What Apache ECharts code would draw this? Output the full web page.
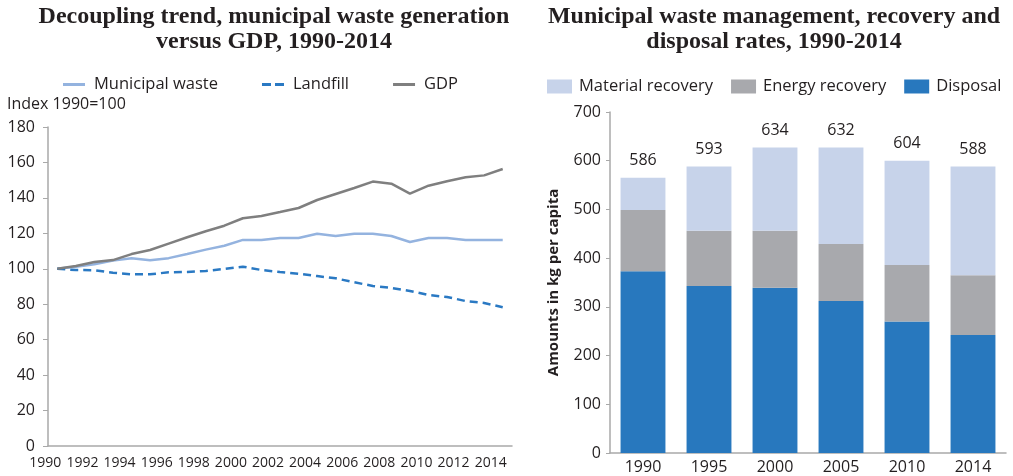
<!DOCTYPE html>
<html>
<head>
<meta charset="utf-8">
<script src="https://cdn.jsdelivr.net/npm/echarts@6/dist/echarts.min.js"></script>
<style>
  html, body { margin: 0; padding: 0; background: #fff; }
  #chart { width: 1013px; height: 476px; }
</style>
</head>
<body>
<div id="chart"></div>
<script>
// left chart: index 1990=100
const years = ['1990','1991','1992','1993','1994','1995','1996','1997','1998','1999','2000','2001','2002',
  '2003','2004','2005','2006','2007','2008','2009','2010','2011','2012','2013','2014'];
const municipalWaste = [100, 101.2, 102.5, 104.6, 106, 104.8, 106, 108.3, 110.8, 113, 116.3, 116.3, 117.4,
  117.4, 119.8, 118.5, 119.8, 119.8, 118.5, 115.1, 117.4, 117.4, 116.3, 116.3, 116.3];
const landfill = [100, 99.3, 99.2, 97.8, 96.9, 96.9, 98, 98.2, 98.8, 99.9, 101.2, 99.3, 98.2,
  97.2, 95.9, 94.6, 92.4, 90.3, 89.2, 87.5, 85.2, 84.1, 81.8, 80.7, 78.3];
const gdp = [100, 101.6, 103.8, 104.9, 108.3, 110.6, 114.2, 117.8, 121.2, 124.3, 128.5, 129.8, 132,
  134.3, 138.8, 142.2, 145.6, 149.2, 148, 142.4, 146.9, 149.4, 151.6, 152.7, 156.3];

// right chart: kg per capita
const barYears = ['1990', '1995', '2000', '2005', '2010', '2014'];
const disposal = [373, 343, 339, 312, 270, 242];
const energyRecovery = [126, 113, 117, 117, 116, 123];
const materialRecovery = [66, 132, 171, 198, 214, 223];
const totalLabels = [586, 593, 634, 632, 604, 588];

const FONT = '"Open Sans", "Noto Sans", sans-serif';
const SERIF = '"Liberation Serif", "Times New Roman", serif';
const TXT = '#231f20';
const AXIS = '#a9a9a9';

// legend icons for the line series (plain stroke / dashed stroke)
const solidIcon = 'path://M0,0H22V3H0Z';
const dashIcon = 'path://M0,0H9V3H0Z M13,0H22V3H13Z';

const chart = echarts.init(document.getElementById('chart'));

chart.setOption({
  animation: false,
  textStyle: { fontFamily: FONT, color: TXT },
  title: [
    {
      text: 'Decoupling trend, municipal waste generation\nversus GDP, 1990-2014',
      left: 274, top: 4, padding: 0, textAlign: 'center',
      textStyle: { fontFamily: SERIF, fontWeight: 'bold', fontSize: 24, lineHeight: 25, color: TXT }
    },
    {
      text: 'Municipal waste management, recovery and\ndisposal rates, 1990-2014',
      left: 774, top: 4, padding: 0, textAlign: 'center',
      textStyle: { fontFamily: SERIF, fontWeight: 'bold', fontSize: 24, lineHeight: 25, color: TXT }
    },
    {
      text: 'Index 1990=100',
      left: 7, top: 96, padding: 0,
      textStyle: { fontFamily: FONT, fontWeight: 'normal', fontSize: 16, color: TXT }
    }
  ],
  legend: [
    {
      data: [
        { name: 'Municipal waste', icon: solidIcon },
        { name: 'Landfill', icon: dashIcon },
        { name: 'GDP', icon: solidIcon }
      ],
      left: 58, top: 71,
      itemWidth: 22, itemHeight: 3, itemGap: 44,
      textStyle: { fontFamily: FONT, fontSize: 16.5, color: TXT, padding: [0, 0, 0, 4] }
    },
    {
      data: ['Material recovery', 'Energy recovery', 'Disposal'],
      left: 542, top: 73,
      icon: 'rect',
      itemWidth: 25, itemHeight: 14, itemGap: 18,
      textStyle: { fontFamily: FONT, fontSize: 16.5, color: TXT, padding: [0, 0, 0, 2] }
    }
  ],
  grid: [
    { left: 48, top: 127, width: 464, height: 319 },
    { left: 610, top: 112, width: 396, height: 341 }
  ],
  xAxis: [
    {
      gridIndex: 0, type: 'category', data: years, boundaryGap: true,
      axisLine: { lineStyle: { color: AXIS, width: 1.5 } },
      axisTick: { show: false },
      axisLabel: { interval: 1, fontSize: 14, color: TXT, margin: 10, padding: [0, 24, 0, 0] }
    },
    {
      gridIndex: 1, type: 'category', data: barYears,
      axisLine: { lineStyle: { color: AXIS, width: 1.5 } },
      axisTick: { show: false },
      axisLabel: { fontSize: 16, color: TXT, margin: 6 }
    }
  ],
  yAxis: [
    {
      gridIndex: 0, type: 'value', min: 0, max: 180, interval: 20,
      axisLine: { show: true, lineStyle: { color: AXIS, width: 1.5 } },
      axisTick: { show: true, length: 5, lineStyle: { color: AXIS } },
      splitLine: { show: false },
      axisLabel: { fontSize: 16, color: TXT, margin: 13 }
    },
    {
      gridIndex: 1, type: 'value', min: 0, max: 700, interval: 100,
      name: 'Amounts in kg per capita', nameLocation: 'middle', nameGap: 49,
      nameTextStyle: { fontFamily: FONT, fontWeight: 'bold', fontSize: 15, color: TXT },
      axisLine: { show: true, lineStyle: { color: AXIS, width: 1.5 } },
      axisTick: { show: true, length: 4, lineStyle: { color: AXIS } },
      splitLine: { show: false },
      axisLabel: { fontSize: 16, color: TXT, margin: 9 }
    }
  ],
  series: [
    {
      name: 'Municipal waste', type: 'line', xAxisIndex: 0, yAxisIndex: 0,
      data: municipalWaste, symbol: 'none',
      lineStyle: { color: '#94b3df', width: 2.5 }, itemStyle: { color: '#94b3df' }
    },
    {
      name: 'Landfill', type: 'line', xAxisIndex: 0, yAxisIndex: 0,
      data: landfill, symbol: 'none',
      lineStyle: { color: '#2a79c3', width: 2.5, type: [8, 5] }, itemStyle: { color: '#2a79c3' }
    },
    {
      name: 'GDP', type: 'line', xAxisIndex: 0, yAxisIndex: 0,
      data: gdp, symbol: 'none',
      lineStyle: { color: '#7f7f7f', width: 2.5 }, itemStyle: { color: '#7f7f7f' }
    },
    {
      name: 'Disposal', type: 'bar', xAxisIndex: 1, yAxisIndex: 1, stack: 'waste',
      data: disposal, barCategoryGap: '32%',
      itemStyle: { color: '#2878be' }
    },
    {
      name: 'Energy recovery', type: 'bar', xAxisIndex: 1, yAxisIndex: 1, stack: 'waste',
      data: energyRecovery,
      itemStyle: { color: '#a8a9ad' }
    },
    {
      name: 'Material recovery', type: 'bar', xAxisIndex: 1, yAxisIndex: 1, stack: 'waste',
      data: materialRecovery,
      itemStyle: { color: '#c7d3ea' },
      label: {
        show: true, position: 'top', distance: 9,
        fontFamily: FONT, fontSize: 16, color: TXT,
        formatter: p => String(totalLabels[p.dataIndex])
      }
    }
  ]
});
</script>
</body>
</html>
